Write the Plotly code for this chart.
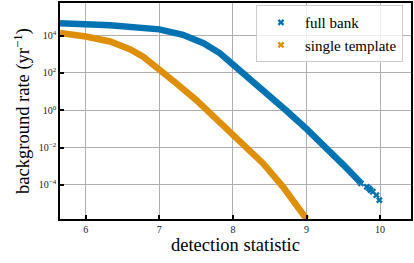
import plotly.graph_objects as go

# full bank (dense part)
full_x = [5.65, 6.0, 6.33, 7.0, 7.32, 7.60, 7.82, 8.0, 8.15, 8.3, 8.5, 8.72, 9.0, 9.27, 9.5, 9.73]
full_logy = [4.66, 4.61, 4.55, 4.33, 4.04, 3.59, 3.06, 2.45, 1.95, 1.42, 0.74, 0.0, -1.0, -2.0, -2.92, -3.85]
# full bank (sparse tail points)
tail_x = [9.74, 9.82, 9.85, 9.87, 9.90, 9.95, 9.99]
tail_logy = [-3.91, -4.10, -4.18, -4.27, -4.36, -4.54, -4.81]
# single template
single_x = [5.65, 6.0, 6.33, 6.60, 6.78, 7.0, 7.23, 7.50, 7.77, 8.0, 8.2, 8.41, 8.68, 8.96, 9.0]
single_logy = [4.13, 3.95, 3.68, 3.27, 2.87, 2.20, 1.45, 0.55, -0.44, -1.28, -2.05, -2.85, -4.10, -5.60, -5.82]

x_ticks = [6, 7, 8, 9, 10]
y_tickvals = [1e4, 1e2, 1e0, 1e-2, 1e-4]
y_ticktext = ["10<sup>4</sup>", "10<sup>2</sup>", "10<sup>0</sup>", "10<sup>−2</sup>", "10<sup>−4</sup>"]

BLUE = "#0173b2"
ORANGE = "#de8f05"

fig = go.Figure()
fig.add_trace(go.Scatter(x=single_x, y=[10 ** v for v in single_logy], mode="lines",
                         line=dict(color=ORANGE, width=6.5), showlegend=False))
fig.add_trace(go.Scatter(x=full_x, y=[10 ** v for v in full_logy], mode="lines",
                         line=dict(color=BLUE, width=6.5), showlegend=False))
fig.add_trace(go.Scatter(x=tail_x, y=[10 ** v for v in tail_logy], mode="markers",
                         marker=dict(color=BLUE, symbol="x", size=6), showlegend=False))
fig.add_trace(go.Scatter(x=[None], y=[None], mode="markers", name="full bank",
                         marker=dict(color=BLUE, symbol="x", size=6)))
fig.add_trace(go.Scatter(x=[None], y=[None], mode="markers", name="single template",
                         marker=dict(color=ORANGE, symbol="x", size=6)))

axis_common = dict(showline=True, linecolor="black", linewidth=1.5, mirror=True,
                   ticks="inside", ticklen=4, tickwidth=1.5, tickcolor="black",
                   showgrid=True, gridcolor="#b0b0b0", gridwidth=1, zeroline=False,
                   automargin=False,
                   tickfont=dict(family="Liberation Serif", size=10, color="#222"))

fig.update_xaxes(range=[5.65, 10.42], tickvals=x_ticks, ticktext=[str(t) for t in x_ticks],
                 title=dict(text="detection statistic", font=dict(family="Liberation Serif", size=18.5, color="black"), standoff=1),
                 **axis_common)
fig.update_yaxes(type="log", range=[-5.82, 5.74], tickvals=y_tickvals, ticktext=y_ticktext,
                 title=dict(text="background rate (yr<sup>−1</sup>)", font=dict(family="Liberation Serif", size=18.5, color="black"), standoff=4),
                 **axis_common)

fig.update_layout(
    width=414, height=263,
    margin=dict(l=60, r=3, t=3, b=44),
    plot_bgcolor="white", paper_bgcolor="white",
    legend=dict(x=0.977, y=0.99, xanchor="right", yanchor="top", itemwidth=38,
                bgcolor="rgba(255,255,255,0.8)", bordercolor="#cccccc", borderwidth=1,
                font=dict(family="Liberation Serif", size=15, color="black")),
)

fig.write_html("out.html", config={"displayModeBar": False},
               post_script="document.body.style.margin='0px';")
